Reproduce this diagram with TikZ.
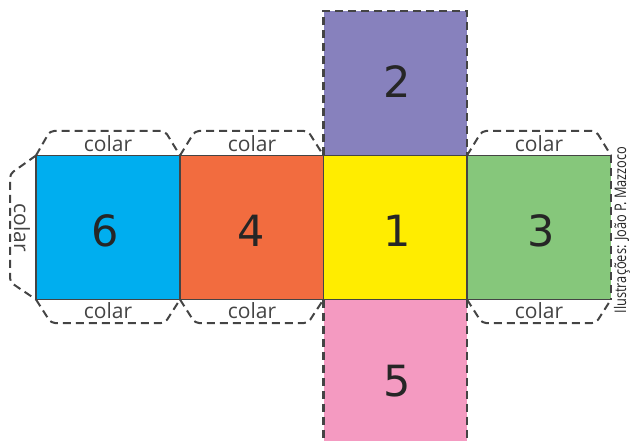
\documentclass[tikz,border=0pt]{standalone}
\usepackage{fontspec}
\setmainfont{Open Sans}
\newfontfamily\digitfont{DejaVu Sans}
\definecolor{cblue}{HTML}{00AEEF}
\definecolor{corange}{HTML}{F26C3F}
\definecolor{cyellow}{HTML}{FFED00}
\definecolor{cgreen}{HTML}{86C77B}
\definecolor{cpurple}{HTML}{8781BD}
\definecolor{cpink}{HTML}{F49AC1}
\definecolor{cline}{HTML}{444444}
\tikzset{
  solidedge/.style={draw=cline, line width=1.7pt},
  dashedge/.style={draw=cline, line width=2.2pt, dash pattern=on 8pt off 5pt},
  tabedge/.style={draw=cline, line width=2pt, dash pattern=on 8pt off 5pt, rounded corners=4pt},
  digit/.style={font=\digitfont\fontsize{43}{43}\selectfont, text=black!85},
  tablabel/.style={font=\fontsize{21}{21}\selectfont, text=cline, inner sep=0pt},
}
\begin{document}
\begin{tikzpicture}[x=1pt, y=-1pt]
\useasboundingbox (0,0) rectangle (630,441);
% fills
\fill[cblue] (36,155.5) rectangle (180,299.5);
\fill[corange] (180,155.5) rectangle (323.5,299.5);
\fill[cyellow] (323.5,155.5) rectangle (467,299.5);
\fill[cgreen] (467,155.5) rectangle (611,299.5);
\fill[cpurple] (323.5,11) rectangle (467,155.5);
\fill[cpink] (323.5,299.5) rectangle (467,441);
% coordinates
\coordinate (A) at (36,155.5);
\coordinate (B) at (180,155.5);
\coordinate (C) at (323.5,155.5);
\coordinate (D) at (467,155.5);
\coordinate (E) at (611,155.5);
\coordinate (A2) at (36,299.5);
\coordinate (B2) at (180,299.5);
\coordinate (C2) at (323.5,299.5);
\coordinate (D2) at (467,299.5);
\coordinate (E2) at (611,299.5);
\coordinate (P1) at (323.5,11);
\coordinate (P2) at (467,11);
\coordinate (Q1) at (323.5,441);
\coordinate (Q2) at (467,441);
% solid edges
\draw[solidedge] (A) -- (E);
\draw[solidedge] (A2) -- (E2);
\draw[solidedge] (A) -- (A2);
\draw[solidedge] (B) -- (B2);
\draw[solidedge] (C) -- (C2);
\draw[solidedge] (D) -- (D2);
% dashed edges
\draw[dashedge] (E) -- (E2);
\draw[dashedge] (C) -- (P1) -- (P2) -- (D);
\draw[dashedge] (C2) -- (Q1);
\draw[dashedge] (D2) -- (Q2);
% tabs
\draw[tabedge] (A) -- (50,131) -- (165,131) -- (B);
\draw[tabedge] (B) -- (195,131) -- (308,131) -- (C);
\draw[tabedge] (D) -- (482,131) -- (596,131) -- (E);
\draw[tabedge] (A2) -- (51,323) -- (165,323) -- (B2);
\draw[tabedge] (B2) -- (195,323) -- (308,323) -- (C2);
\draw[tabedge] (D2) -- (482,323) -- (596,323) -- (E2);
\draw[tabedge] (A) -- (10,174) -- (10,282) -- (A2);
% labels
\node[tablabel] (t1) at (108,144) {colar};
\node[tablabel] (t2) at (252,144) {colar};
\node[tablabel] (t3) at (539,144) {colar};
\node[tablabel] (b1) at (108,311) {colar};
\node[tablabel] (b2) at (252,311) {colar};
\node[tablabel] (b3) at (539,311) {colar};
\node[tablabel, rotate=-90] (l1) at (22,228) {colar};
% digits
\node[digit] (n6) at (105,231) {6};
\node[digit] (n4) at (251,231) {4};
\node[digit] (n1) at (397,231) {1};
\node[digit] (n3) at (541,231) {3};
\node[digit] (n2) at (397,82) {2};
\node[digit] (n5) at (397,381) {5};
% credit
\node[rotate=90, inner sep=0pt, text=black!85, font=\fontsize{16}{16}\selectfont] (cr) at (622,230) {\scalebox{0.8}[1]{Ilustrações: João P. Mazzoco}};
\end{tikzpicture}
\end{document}
